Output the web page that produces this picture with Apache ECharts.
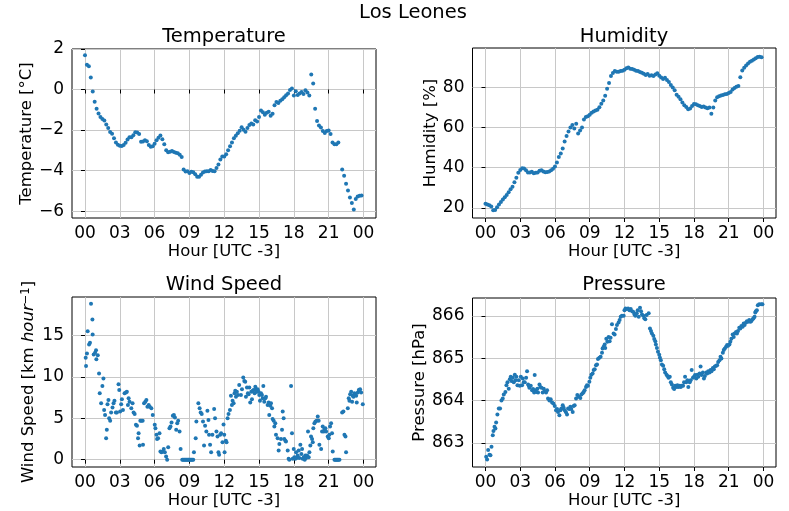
<!DOCTYPE html>
<html><head><meta charset="utf-8">
<script src="https://cdn.jsdelivr.net/npm/echarts@6/dist/echarts.min.js"></script>
<style>html,body{margin:0;padding:0;background:#fff}#c{width:789px;height:511px}</style>
</head><body><div id="c"></div>
<script>
// ---- tick values ----
const hourTicks = [0, 3, 6, 9, 12, 15, 18, 21, 24];
const tempTicks = [-6, -4, -2, 0, 2];
const humTicks = [20, 40, 60, 80];
const windTicks = [0, 5, 10, 15];
const presTicks = [863, 864, 865, 866];

// ---- temperature [°C], one value every 10 minutes from 00:00 (null = no data) ----
const tempValues = [
  1.69, 1.22, 1.15, 0.59, -0.1, -0.6,
  -0.95, -1.18, -1.35, -1.45, -1.53, -1.72,
  -1.9, -2.1, -2.18, -2.4, -2.62, -2.72,
  -2.77, -2.79, -2.74, -2.63, -2.47, -2.35,
  -2.36, -2.26, -2.11, -2.12, -2.2, -2.58,
  -2.57, -2.5, -2.55, -2.74, -2.83, -2.8,
  -2.68, -2.5, -2.38, -2.27, -2.45, -2.7,
  -3.0, -3.1, -3.07, -3.03, -3.08, -3.12,
  -3.15, -3.22, -3.33, -3.95, -4.05, -4.03,
  -4.12, -4.06, -4.08, -4.18, -4.3, -4.3,
  -4.2, -4.1, -4.04, -4.03, -4.03, -3.97,
  -4.02, -4.03, -3.87, -3.7, -3.45, -3.31,
  -3.3, -3.2, -3.0, -2.8, -2.62, -2.4,
  -2.28, -2.16, -2.03, -1.86, -1.98, -2.08,
  -1.9, -1.75, -1.68, -1.72, -1.52, -1.58,
  -1.36, -1.03, -1.12, -1.25, -1.15, -1.1,
  -1.3, -1.2, -0.77, -0.62, -0.66, -0.55,
  -0.48, -0.38, -0.28, -0.2, -0.02, 0.05,
  -0.3, -0.08, -0.27, -0.2, -0.12, -0.22,
  -0.04, -0.15, -0.3, 0.74, 0.3, -0.95,
  -1.55, -1.78, -1.88, -2.05, -2.15, -2.05,
  -2.02, -2.2, -2.62, -2.7, -2.7, -2.62,
  null, -3.95, -4.25, -4.65, -4.98, -5.33,
  -5.6, -5.92, -5.4, -5.28, -5.24, -5.23
];

// ---- humidity [%], one value every 10 minutes from 00:00 ----
const humidityValues = [
  22, 21.6, 21.2, 20.6, 18.8, 18.9,
  20.2, 21.6, 22.9, 24.1, 25.3, 26.4,
  27.7, 29.2, 30.5, 32.7, 35, 37.4,
  38.8, 39.7, 39.6, 38.7, 37.6, 37.6,
  38, 37.2, 37.4, 37.6, 38.4, 38.7,
  38.1, 37.7, 37.8, 38.1, 38.7, 39.4,
  40.5, 42.5, 45.3, 47, 49.5, 53,
  55.8, 58, 60, 61.2, 59.5, 61.8,
  57, 58.5, 60, 64, 65.2, 65.6,
  66.3, 67.4, 67.9, 68.4, 68.8, 70.1,
  71.8, 73.5, 75.8, 79.3, 82.2, 85.6,
  87.2, 88.1, 87.8, 87.8, 88.1, 88.3,
  88.8, 89.5, 89.9, 89.3, 89.1, 88.8,
  88.3, 88.1, 87.7, 87.3, 86.8, 86.2,
  86.6, 85.8, 86, 85.7, 86.4, 87,
  85.8, 84.9, 84.2, 84.8, 83.6, 82.6,
  81.2, 79.9, 78.5, 76.3, 75.3, 74.1,
  72.5, 71.1, 70.2, 69.1, 69.5, 70.7,
  71.7, 71.6, 71.1, 70.7, 70.2, 70.5,
  70, 69.6, 70, 66.8, 70, 73.5,
  75, 75.5, 75.9, 76.2, 76.5, 76.7,
  77.2, 77.7, 78.9, 79.7, 80.3, 80.7,
  85, 88.4, 89.7, 90.9, 91.9, 92.7,
  93.3, 93.9, 94.5, 95.1, 95.3, 95
];

// ---- wind speed [km/h], [hour, value] ----
const windData = [
  [0.06,12.3],[0.09,11.3],[0.17,12.8],[0.23,15.5],[0.35,13.9],[0.43,14.1],[0.52,18.8],[0.64,16.9],
  [0.66,15.1],[0.75,12.7],[0.87,12.9],[0.95,13.2],[0.98,12.1],[1.10,12.6],[1.21,10.4],[1.27,8.0],
  [1.39,6.8],[1.50,8.9],[1.59,9.8],[1.65,6.0],[1.73,5.4],[1.82,2.6],[1.88,3.6],[1.94,6.7],
  [2.02,7.2],[2.08,5.0],[2.17,4.7],[2.25,5.7],[2.37,6.3],[2.46,6.8],[2.54,7.1],[2.66,5.7],
  [2.75,5.7],[2.89,9.1],[2.95,8.4],[3.03,5.8],[3.12,6.7],[3.18,7.3],[3.27,6.0],[3.41,8.0],
  [3.53,8.1],[3.61,8.2],[3.70,6.6],[3.76,7.4],[3.84,7.0],[3.99,6.2],[4.10,6.8],[4.19,5.7],
  [4.28,5.5],[4.39,4.2],[4.48,4.1],[4.57,2.6],[4.62,3.2],[4.71,1.7],[4.77,4.7],[4.86,4.7],
  [4.97,4.7],[5.00,1.8],[5.09,6.8],[5.20,7.0],[5.29,7.2],[5.38,6.4],[5.49,6.6],[5.58,6.4],
  [5.72,6.2],[5.84,5.4],[6.01,4.2],[6.07,3.8],[6.16,3.0],[6.21,2.5],[6.30,2.6],[6.42,3.2],
  [6.50,1.0],[6.59,0.9],[6.71,1.0],[6.79,1.3],[6.88,0.9],[6.99,0.4],[7.08,0.0],[7.17,1.5],
  [7.28,3.8],[7.37,4.0],[7.46,4.5],[7.57,5.3],[7.66,5.4],[7.75,5.1],[7.86,3.6],[7.95,4.4],
  [8.03,4.7],[8.15,3.4],[8.24,1.3],[8.38,0],[8.45,0],[8.53,0],[8.60,0],[8.67,0],[8.75,0],
  [8.82,0],[8.90,0],[8.96,0],[9.03,0],[9.10,0],[9.18,0],[9.25,0],[9.33,0],[9.39,0.9],
  [9.54,2.6],[9.60,4.6],[9.77,6.8],[9.88,6.2],[9.97,5.7],[10.06,5.5],[10.17,4.6],[10.26,1.7],
  [10.35,4.1],[10.46,3.4],[10.55,5.9],[10.64,4.8],[10.69,3.0],[10.78,1.8],[10.87,0.9],[10.98,3.0],
  [11.13,6.1],[11.21,5.0],[11.33,3.4],[11.42,2.8],[11.50,0.9],[11.56,0.6],[11.65,3.0],[11.73,3.2],
  [11.85,2.1],[11.94,4.25],[12.00,3.0],[12.03,0.9],[12.14,2.3],[12.20,2.1],[12.29,5.0],[12.37,5.5],
  [12.49,6.0],[12.58,7.7],[12.66,6.6],[12.72,7.1],[12.81,6.8],[12.89,8.0],[12.95,8.3],[13.01,7.6],
  [13.09,8.2],[13.18,7.8],[13.29,9.0],[13.44,7.8],[13.53,8.5],[13.64,9.9],[13.73,9.5],[13.81,9.4],
  [13.87,7.6],[13.96,8.7],[14.04,8.0],[14.10,7.9],[14.16,8.7],[14.24,6.9],[14.33,8.2],[14.39,7.3],
  [14.45,8.3],[14.53,8.4],[14.62,8.0],[14.68,8.8],[14.73,8.5],[14.79,8.2],[14.88,8.5],[14.96,8.2],
  [15.02,7.8],[15.08,7.1],[15.17,8.0],[15.25,7.8],[15.31,7.4],[15.37,8.9],[15.45,7.0],[15.54,7.4],
  [15.60,7.6],[15.74,6.6],[15.83,6.9],[15.88,5.4],[15.97,6.5],[16.03,6.8],[16.12,6.2],[16.17,4.9],
  [16.26,4.7],[16.32,4.0],[16.40,4.4],[16.46,3.0],[16.60,2.6],[16.69,1.1],[16.75,1.9],[16.89,2.5],
  [16.98,3.6],[17.04,5.8],[17.12,5.0],[17.18,2.5],[17.27,2.3],[17.32,2.2],[17.47,1.1],[17.55,0.1],
  [17.61,0.0],[17.76,8.9],[17.84,3.2],[17.90,0.1],[17.99,1.3],[18.04,0.3],[18.13,0.1],[18.19,0.9],
  [18.24,0.2],[18.33,0.5],[18.42,1.1],[18.47,0.2],[18.56,1.8],[18.65,0.7],[18.71,1.3],[18.76,0.1],
  [18.85,0.3],[18.94,0.0],[18.99,0.5],[19.05,0.2],[19.14,0.5],[19.22,3.4],[19.28,0.3],[19.34,0.9],
  [19.42,1.7],[19.48,2.8],[19.57,2.5],[19.63,2.1],[19.68,3.8],[19.77,4.4],[19.86,4.6],[19.97,4.7],
  [20.06,5.2],[20.14,4.7],[20.20,1.8],[20.35,1.3],[20.43,3.4],[20.49,4.0],[20.58,3.4],[20.63,3.7],
  [20.72,3.8],[20.78,3.4],[20.92,2.8],[21.01,2.6],[21.06,3.0],[21.12,4.0],[21.21,4.4],[21.29,3.2],
  [21.35,1.0],[21.50,0],[21.57,0],[21.64,0],[21.71,0],[21.78,0],[21.85,0],[21.93,0],
  [22.16,5.7],[22.27,5.8],[22.36,3.0],[22.45,2.8],[22.50,0.9],[22.65,6.2],[22.73,7.4],[22.79,7.1],
  [22.85,7.9],[22.94,8.2],[23.02,7.0],[23.08,7.7],[23.14,7.6],[23.22,8.0],[23.31,7.8],[23.37,7.7],
  [23.42,6.9],[23.51,8.1],[23.60,8.4],[23.65,8.4],[23.71,8.5],[23.80,8.1],[23.94,6.7]
];

// ---- pressure [hPa], [hour, value] ----
const pressureData = [
  [0.06,862.67],[0.14,862.61],[0.23,862.83],[0.34,862.72],[0.43,862.71],[0.52,862.91],[0.63,863.18],[0.69,863.28],
  [0.78,863.38],[0.86,863.34],[0.92,863.48],[1.03,863.67],[1.15,863.81],[1.26,863.81],[1.38,864.0],[1.49,864.05],
  [1.58,864.14],[1.72,864.2],[1.81,864.36],[1.90,864.43],[2.01,864.28],[2.10,864.5],[2.18,864.56],[2.24,864.46],
  [2.36,864.54],[2.44,864.43],[2.53,864.61],[2.59,864.48],[2.67,864.56],[2.76,864.36],[2.87,864.48],[2.96,864.35],
  [3.05,864.56],[3.16,864.36],[3.22,864.52],[3.30,864.43],[3.39,864.43],[3.51,864.54],[3.59,864.69],[3.68,864.38],
  [3.74,864.35],[3.79,864.3],[3.91,864.35],[4.02,864.24],[4.11,864.27],[4.20,864.19],[4.25,864.6],[4.31,864.24],
  [4.40,864.2],[4.48,864.28],[4.54,864.19],[4.66,864.38],[4.74,864.32],[4.83,864.3],[4.94,864.19],[5.03,864.28],
  [5.11,864.22],[5.23,864.19],[5.32,864.24],[5.40,864.05],[5.52,864.0],[5.63,864.03],[5.75,863.95],[5.86,863.93],
  [5.98,863.87],[6.09,863.77],[6.18,863.8],[6.26,863.73],[6.38,863.65],[6.47,863.77],[6.55,863.81],[6.67,863.89],
  [6.75,863.83],[6.84,863.77],[6.95,863.72],[7.04,863.67],[7.13,863.81],[7.24,863.8],[7.33,863.85],[7.41,863.8],
  [7.53,863.73],[7.61,863.87],[7.70,863.89],[7.82,864.05],[7.93,864.13],[8.05,864.09],[8.19,864.06],[8.28,864.14],
  [8.39,864.17],[8.48,864.2],[8.56,864.24],[8.68,864.32],[8.76,864.36],[8.85,864.35],[8.97,864.44],[9.05,864.54],
  [9.14,864.61],[9.25,864.64],[9.34,864.72],[9.43,864.74],[9.54,864.83],[9.63,864.85],[9.71,864.98],[9.83,865.01],
  [9.94,865.03],[10.06,865.13],[10.11,865.23],[10.20,865.27],[10.29,865.32],[10.34,865.24],[10.43,865.46],[10.52,865.39],
  [10.63,865.5],[10.72,865.4],[10.80,865.48],[10.92,865.8],[11.06,865.58],[11.15,865.56],[11.26,865.69],[11.35,865.78],
  [11.49,865.84],[11.58,865.9],[11.67,865.98],[11.78,866.0],[11.93,866.0],
  [12.00,866.13],[12.09,866.17],[12.20,866.16],[12.31,866.17],[12.43,866.13],[12.54,866.16],[12.66,866.11],[12.77,866.09],
  [12.86,866.03],[12.94,866.0],[13.06,866.06],[13.14,866.13],[13.23,865.98],[13.34,866.19],[13.43,866.11],[13.51,866.03],
  [13.63,866.0],[13.71,865.94],[13.80,865.92],[13.91,866.02],[14.09,866.06],[14.20,865.7],[14.29,865.64],[14.37,865.58],
  [14.49,865.53],[14.57,865.45],[14.66,865.4],[14.71,865.32],[14.80,865.24],[14.89,865.15],[15.00,865.08],[15.06,865.01],
  [15.14,864.95],[15.23,864.85],[15.34,864.82],[15.43,864.74],[15.51,864.66],[15.63,864.61],[15.71,864.58],[15.80,864.54],
  [15.91,864.56],[16.00,864.43],[16.09,864.38],[16.20,864.3],[16.29,864.27],[16.37,864.35],[16.49,864.32],[16.57,864.36],
  [16.66,864.32],[16.77,864.35],[16.86,864.32],[16.94,864.35],[17.06,864.35],[17.14,864.43],[17.23,864.56],[17.34,864.43],
  [17.43,864.48],[17.51,864.32],[17.63,864.43],[17.71,864.48],[17.80,864.72],[17.91,864.54],[18.00,864.56],[18.09,864.6],
  [18.20,864.52],[18.29,864.61],[18.37,864.56],[18.49,864.64],[18.57,864.8],[18.66,864.6],[18.77,864.66],[18.86,864.52],
  [18.94,864.58],[19.06,864.66],[19.14,864.64],[19.23,864.69],[19.34,864.66],[19.43,864.72],[19.51,864.69],[19.63,864.77],
  [19.71,864.74],[19.80,864.8],[19.91,864.82],[20.00,864.83],[20.09,864.91],[20.20,864.95],[20.29,865.03],[20.37,864.99],
  [20.49,865.13],[20.57,865.19],[20.66,865.23],[20.77,865.27],[20.86,865.31],[20.94,865.29],[21.06,865.32],[21.14,865.39],
  [21.23,865.46],[21.34,865.56],[21.43,865.5],[21.51,865.58],[21.63,865.62],[21.71,865.58],[21.80,865.64],[21.91,865.72],
  [22.00,865.7],[22.09,865.76],[22.20,865.74],[22.29,865.82],[22.37,865.78],[22.49,865.84],[22.57,865.87],[22.66,865.86],
  [22.77,865.9],[22.86,865.86],[22.94,865.87],[23.06,865.92],[23.14,865.94],[23.23,865.98],[23.29,866.08],[23.34,866.11],
  [23.43,866.13],[23.51,866.25],[23.63,866.27],[23.80,866.27],[23.91,866.27]
];

// ---- build ----
const FONT = '"DejaVu Sans", sans-serif';
const BLUE = '#1f77b4';
const TICK_FS = 17;
const NAME_FS = 16.5;
const toPts = arr => arr.map((v, i) => [i / 6, v]).filter(p => p[1] !== null);

const grids = [
  {left: 72, top: 49, width: 304, height: 169},
  {left: 472.5, top: 48, width: 303.5, height: 170},
  {left: 72, top: 297, width: 304, height: 170},
  {left: 472.5, top: 298, width: 303.5, height: 169}
];

function xAx(i) {
  return {
    type: 'value', gridIndex: i, min: -1.12, max: 25.08,
    name: 'Hour [UTC -3]', nameLocation: 'middle', nameGap: 25,
    nameTextStyle: {fontFamily: FONT, fontSize: NAME_FS, color: '#000'},
    axisLine: {show: false},
    axisTick: {show: true, customValues: hourTicks, length: 4, lineStyle: {color: '#000', width: 1}},
    axisLabel: {customValues: hourTicks, margin: 7, fontFamily: FONT, fontSize: TICK_FS, color: '#000',
      formatter: v => String(((Math.round(v) % 24) + 24) % 24).padStart(2, '0')},
    splitLine: {show: true, lineStyle: {color: '#c8c8c8', width: 1}}
  };
}
function yAx(i, min, max, ticks, name, gap, rich) {
  const o = {
    type: 'value', gridIndex: i, min: min, max: max,
    name: name, nameLocation: 'middle', nameGap: gap, nameRotate: 90,
    nameTextStyle: {fontFamily: FONT, fontSize: NAME_FS, color: '#000'},
    axisLine: {show: false},
    axisTick: {show: true, customValues: ticks, length: 4, lineStyle: {color: '#000', width: 1}},
    axisLabel: {customValues: ticks, margin: 8, fontFamily: FONT, fontSize: TICK_FS, color: '#000',
      formatter: v => String(v).replace('-', '\u2212')},
    splitLine: {show: true, lineStyle: {color: '#c8c8c8', width: 1}}
  };
  if (rich) o.nameTextStyle.rich = rich;
  return o;
}

const chart = echarts.init(document.getElementById('c'), null, {renderer: 'canvas'});
const titleStyle = (t, x, y, size) => ({
  type: 'text', x: x, y: y, silent: true,
  style: {text: t, fill: '#000', fontFamily: FONT, fontSize: size, align: 'center', verticalAlign: 'middle',
    textAlign: 'center', textVerticalAlign: 'middle'}
});

chart.setOption({
  animation: false,
  backgroundColor: '#fff',
  grid: grids.map(g => Object.assign({show: true, borderColor: '#000', borderWidth: 1, backgroundColor: 'transparent'}, g)),
  graphic: [
    titleStyle('Los Leones', 413, 13, 19.5),
    titleStyle('Temperature', 224, 37, 19.5),
    titleStyle('Humidity', 624, 37, 19.5),
    titleStyle('Wind Speed', 224, 285, 19.5),
    titleStyle('Pressure', 624, 285, 19.5)
  ],
  xAxis: [xAx(0), xAx(1), xAx(2), xAx(3)],
  yAxis: [
    yAx(0, -6.34, 2.0, tempTicks, 'Temperature [°C]', 35),
    yAx(1, 14.9, 99.6, humTicks, 'Humidity [%]', 31),
    yAx(2, -0.88, 19.62, windTicks, '{n|Wind Speed [km }{i|hour}{s|\u22121}{n|]}', 35,
      {n: {fontFamily: FONT, fontSize: NAME_FS, color: '#000'},
       i: {fontFamily: FONT, fontSize: NAME_FS, fontStyle: 'italic', color: '#000'},
       s: {fontFamily: FONT, fontSize: 11.5, color: '#000', verticalAlign: 'top'}}),
    yAx(3, 862.43, 866.42, presTicks, 'Pressure [hPa]', 41)
  ],
  series: [
    {type: 'scatter', xAxisIndex: 0, yAxisIndex: 0, data: toPts(tempValues)},
    {type: 'scatter', xAxisIndex: 1, yAxisIndex: 1, data: toPts(humidityValues)},
    {type: 'scatter', xAxisIndex: 2, yAxisIndex: 2, data: windData},
    {type: 'scatter', xAxisIndex: 3, yAxisIndex: 3, data: pressureData}
  ].map(s => Object.assign(s, {symbol: 'circle', symbolSize: 4, itemStyle: {color: BLUE, opacity: 1}, silent: true}))
});
</script>
</body></html>
